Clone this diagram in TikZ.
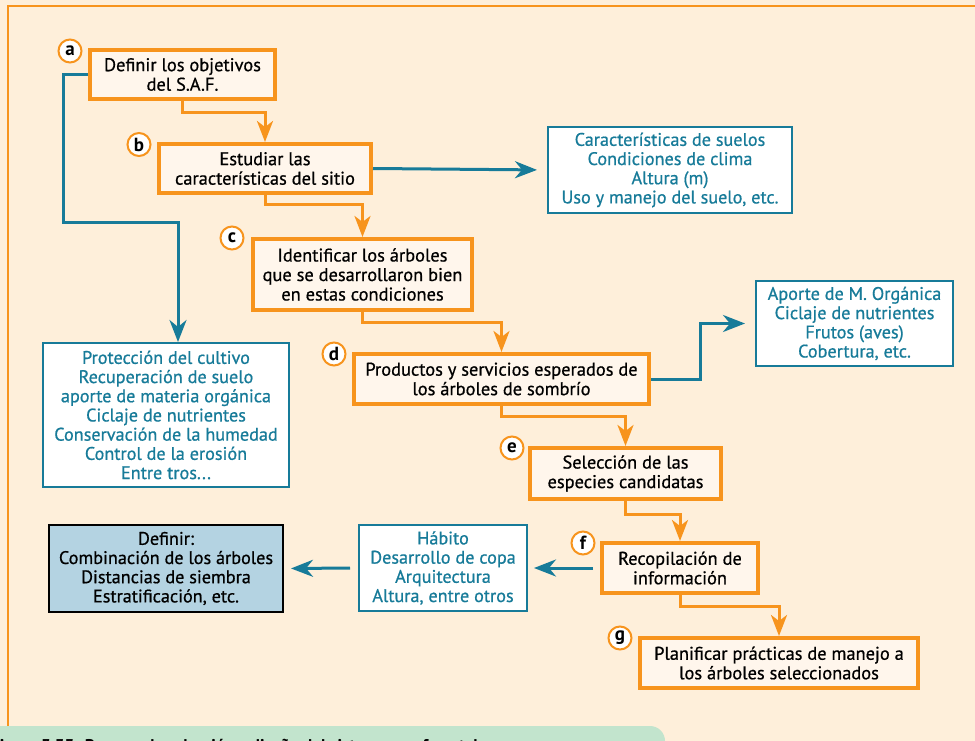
\documentclass[tikz,border=0pt]{standalone}
\usepackage{fontspec}
\setmainfont{PT Sans}
\newfontfamily\medfont{PT Sans}[FakeBold=0.7]
\usetikzlibrary{arrows.meta}
\definecolor{cream}{HTML}{FEEFDA}
\definecolor{boxfill}{HTML}{FFF6EC}
\definecolor{orng}{HTML}{F7941D}
\definecolor{tealc}{HTML}{177B99}
\definecolor{bluefill}{HTML}{B4D3E2}
\definecolor{capgreen}{HTML}{C2E4CD}
\begin{document}
\begin{tikzpicture}[x=1pt,y=-1pt,
  obox/.style={draw=orng, line width=4pt, fill=boxfill, align=center, inner sep=0pt,
    font=\medfont\fontsize{18.4}{19.5}\selectfont},
  tbox/.style={draw=tealc, line width=2pt, fill=white, text=tealc, align=center, inner sep=0pt,
    font=\medfont\fontsize{18.2}{19.2}\selectfont},
  lbl/.style={circle, draw=orng, line width=2pt, fill=white, minimum size=23pt, inner sep=0pt,
    font=\bfseries\fontsize{19}{19}\selectfont},
  oarr/.style={draw=orng, line width=3pt, -{Stealth[length=21pt,width=16pt,inset=6pt]}},
  tarr/.style={draw=tealc, line width=3pt, -{Stealth[length=22pt,width=17pt,inset=7pt]}}]
\useasboundingbox (0,0) rectangle (975,741);
\clip (0,0) rectangle (975,741);
\fill[cream] (0,0) rectangle (975,741);
\draw[orng, line width=2.5pt] (8,728) -- (8,6) -- (980,6);

% orange step boxes
\node[obox, minimum width=185pt, minimum height=49pt] (a) at (182.5,74.5) {Definir los objetivos\\del S.A.F.};
\node[obox, minimum width=212pt, minimum height=49pt] (b) at (265,168.5) {Estudiar las\\características del sitio};
\node[obox, minimum width=219pt, minimum height=71pt] (c) at (362.5,274.5) {Identificar los árboles\\que se desarrollaron bien\\en estas condiciones};
\node[obox, minimum width=295pt, minimum height=50pt] (d) at (501.5,379) {Productos y servicios esperados de\\los árboles de sombrío};
\node[obox, minimum width=191pt, minimum height=51pt] (e) at (625.5,473.5) {Selección de las\\especies candidatas};
\node[obox, minimum width=156pt, minimum height=50pt] (f) at (680,568) {Recopilación de\\información};
\node[obox, minimum width=278pt, minimum height=50pt] (g) at (779,663) {Planificar prácticas de manejo a\\los árboles seleccionados};

% labels
\node[lbl] (la) at (70,51) {a};
\node[lbl] (lb) at (139,144.5) {b};
\node[lbl] (lc) at (232,238) {c};
\node[lbl] (ld) at (334,354) {d};
\node[lbl] (le) at (512,448) {e};
\node[lbl] (lf) at (583,543) {f};
\node[lbl] (lg) at (620,638) {g};

% teal info boxes
\node[tbox, minimum width=244pt, minimum height=86pt] (car) at (670,170) {Características de suelos\\Condiciones de clima\\Altura (m)\\Uso y manejo del suelo, etc.};
\node[tbox, minimum width=197pt, minimum height=85pt] (apo) at (854.5,323.5) {Aporte de M. Orgánica\\Ciclaje de nutrientes\\Frutos (aves)\\Cobertura, etc.};
\node[tbox, minimum width=246pt, minimum height=144pt] (pro) at (166,415) {Protección del cultivo\\Recuperación de suelo\\aporte de materia orgánica\\Ciclaje de nutrientes\\Conservación de la humedad\\Control de la erosión\\Entre tros...};
\node[tbox, minimum width=168pt, minimum height=86pt] (hab) at (443,568) {Hábito\\Desarrollo de copa\\Arquitectura\\Altura, entre otros};
\node[tbox, draw=black, fill=bluefill, text=black, minimum width=234pt, minimum height=87pt] (def) at (166,568.5) {Definir:\\Combinación de los árboles\\Distancias de siembra\\Estratificación, etc.};

% orange connectors
\draw[oarr] (a.south) -- ++(0,12) -| (b.north);
\draw[oarr] (b.south) -- ++(0,9) -| (c.north);
\draw[oarr] (c.south) -- ++(0,10) -| (d.north);
\draw[oarr] (d.south) -- ++(0,10) -| (e.north);
\draw[oarr] (e.south) -- ++(0,13) -| (f.north);
\draw[oarr] (f.south) -- ++(0,11) -| (g.north);

% teal connectors
\coordinate (k0) at (63,222);
\coordinate (k1) at (178,222);
\draw[tarr] (a.west) -| (k0) -- (k1) -- (k1 |- pro.north);
\draw[tarr, shorten >=10pt] (b.east) -- (car.west);
\coordinate (k2) at (700,379);
\draw[tarr, shorten >=10pt] (d.east) -- (k2) |- (apo.west);
\draw[tarr, shorten <=7pt, shorten >=6pt] (f.west) -- (hab.east);
\draw[tarr, shorten <=8pt, shorten >=7pt] (hab.west) -- (def.east);

% caption band (cut off at bottom)
\fill[capgreen, rounded corners=15pt] (-20,770) rectangle (665,726);
\node[anchor=base west, inner sep=0pt, font=\bfseries\fontsize{17}{20}\selectfont] (cap) at (-9,751) {Figura 3.33: Proceso de selección y diseño del sistema agroforestal};
\end{tikzpicture}
\end{document}
